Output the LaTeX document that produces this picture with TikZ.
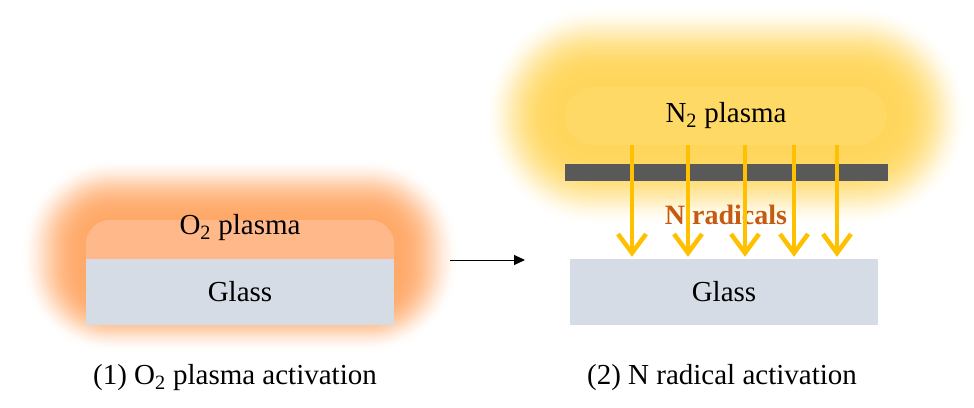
\documentclass[tikz,border=0pt]{standalone}
\usepackage{fontspec}
\setmainfont{Liberation Serif}
\usetikzlibrary{arrows.meta}
\definecolor{glassc}{RGB}{214,220,229}
\definecolor{oplasma}{RGB}{255,184,138}
\definecolor{oglow}{RGB}{255,166,100}
\definecolor{nplasma}{RGB}{255,217,102}
\definecolor{nglow}{RGB}{255,213,88}
\definecolor{ray}{RGB}{255,192,0}
\definecolor{grid}{RGB}{89,89,89}
\definecolor{radc}{RGB}{197,90,17}
\tikzset{
  bigfont/.style={font=\fontsize{29}{32}\selectfont},
  glassbox/.style={fill=glassc, minimum width=308pt, minimum height=66pt, inner sep=0pt, bigfont},
  lbl/.style={bigfont, inner sep=0pt},
  captext/.style={bigfont, inner sep=0pt},
  rayarrow/.style={draw=ray, line width=4.5pt, -{Straight Barb[length=19pt 0 0, width=28pt 0 0, line width=4.5pt]}},
}
\begin{document}
\begin{tikzpicture}[x=1pt,y=-1pt]
\useasboundingbox (0,0) rectangle (974,407);
% left glow
\foreach \i in {0,...,50}{
  \pgfmathsetmacro{\e}{\i*1.3}
  \pgfmathsetmacro{\op}{0.0022*(66-\e)}
  \fill[oglow, opacity=\op, rounded corners={26+\e}] (86-\e,218-\e*0.9) rectangle (394+\e,300+\e*0.8);
}
% right glow
\foreach \i in {0,...,50}{
  \pgfmathsetmacro{\e}{\i*1.6}
  \pgfmathsetmacro{\op}{0.0022*(82-\e)}
  \fill[nglow, opacity=\op, rounded corners={29+\e}] (565-\e,87-\e) rectangle (887+\e,145+\e);
}
% O2 plasma
\fill[oplasma, rounded corners=24pt] (86,220) rectangle (394,290);
\node[glassbox] (glassL) at (240,292) {Glass};
\node[lbl] (o2) at (240,228) {O\textsubscript{2} plasma};
% N2 plasma
\node[fill=nplasma, rounded corners=29pt, minimum width=322pt, minimum height=58pt, inner sep=0pt, bigfont] (n2) at (726,116) {N\textsubscript{2} plasma};
\node[fill=grid, minimum width=323pt, minimum height=17pt, inner sep=0pt] (bar) at (726.5,172.5) {};
\node[glassbox] (glassR) at (724,292) {Glass};
\node[font=\bfseries\fontsize{28}{32}\selectfont, text=radc, inner sep=0pt] (rad) at (726,215) {N radicals};
% rays
\foreach \x in {632,688,745,794,837}{
  \coordinate (r\x) at (\x,0);
  \draw[rayarrow] (n2.south -| r\x) -- ([yshift=2pt]glassR.north -| r\x);
}
% process arrow
\coordinate (a1) at (450,260);
\coordinate (a2) at (525,260);
\draw[line width=1pt, -{Triangle[length=11pt,width=10pt]}] (a1) -- (a2);
% captions
\node[captext] (c1) at (235,378) {(1) O\textsubscript{2} plasma activation};
\node[captext] (c2) at (722,378) {(2) N radical activation};
\end{tikzpicture}
\end{document}
